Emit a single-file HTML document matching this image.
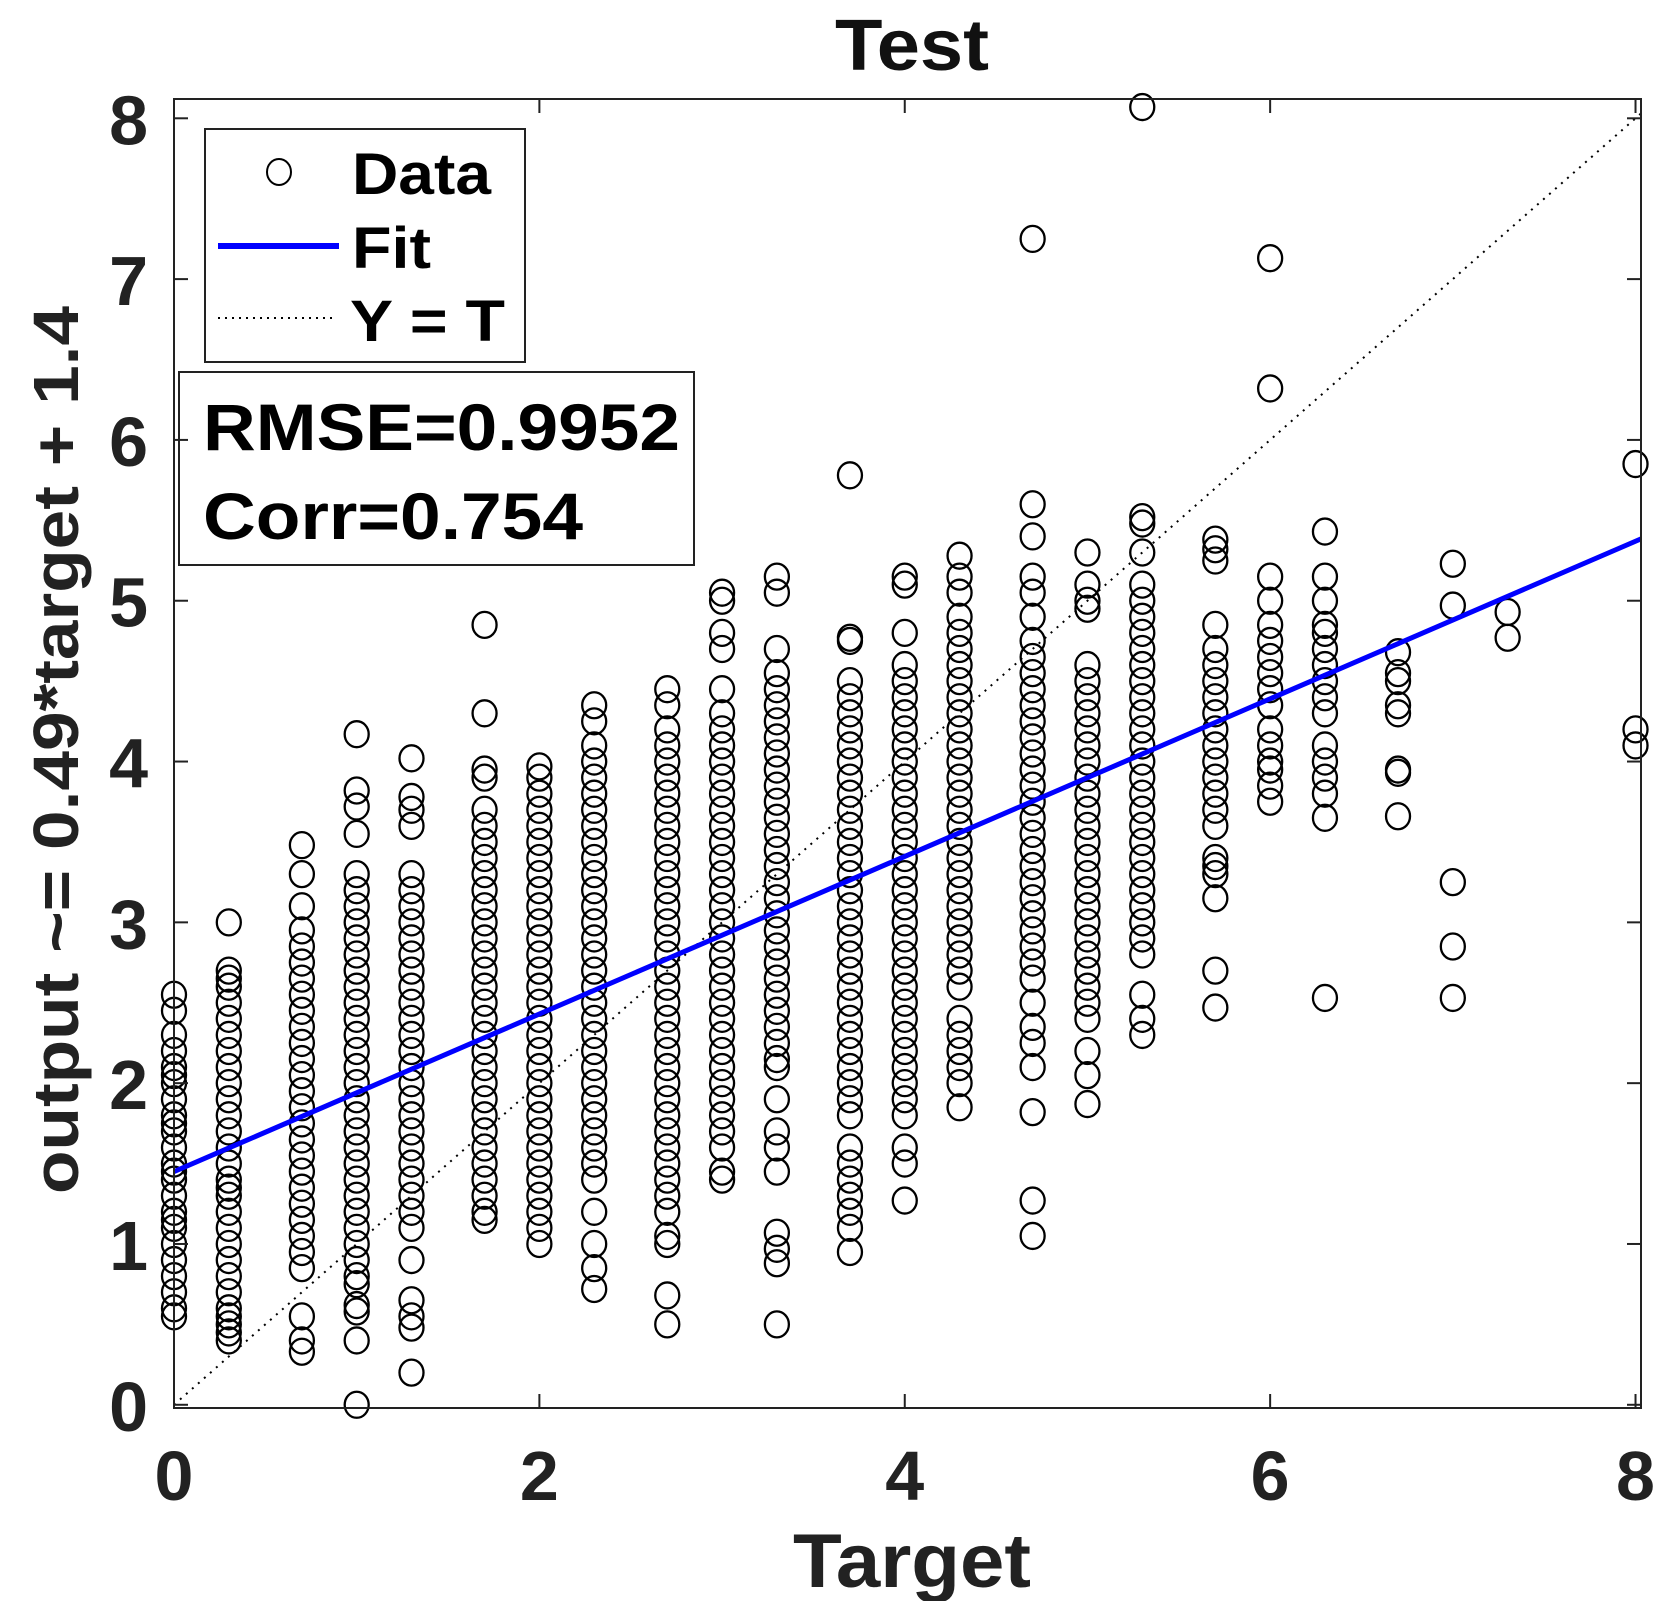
<!DOCTYPE html>
<html><head><meta charset="utf-8"><style>
html,body{margin:0;padding:0;background:#fff;}
svg{display:block;}
text{font-family:"Liberation Sans",Arial,sans-serif;font-weight:bold;}
</style></head><body>
<svg id="chart" width="1673" height="1601" viewBox="0 0 1673 1601" xmlns="http://www.w3.org/2000/svg">
<rect x="0" y="0" width="1673" height="1601" fill="#fff"/>
<g id="marks"></g>
<g id="frame"></g>
<text x="912" y="70" font-size="72" text-anchor="middle" fill="#111" textLength="154" lengthAdjust="spacingAndGlyphs">Test</text>
<text x="912" y="1587" font-size="76" text-anchor="middle" fill="#222" textLength="238" lengthAdjust="spacingAndGlyphs">Target</text>
<text x="0" y="0" font-size="64" text-anchor="middle" fill="#222" transform="translate(78,750) rotate(-90)" textLength="888" lengthAdjust="spacingAndGlyphs">output ~= 0.49*target + 1.4</text>
<g>
<rect x="205" y="129" width="320" height="233" fill="#fff" stroke="#222" stroke-width="2"/>
<ellipse cx="279" cy="172" rx="12" ry="13" fill="none" stroke="#000" stroke-width="2"/>
<text x="352" y="194" font-size="58" fill="#000" textLength="139" lengthAdjust="spacingAndGlyphs">Data</text>
<line x1="218" y1="246" x2="339" y2="246" stroke="#0000ff" stroke-width="6"/>
<text x="352" y="268" font-size="58" fill="#000" textLength="79" lengthAdjust="spacingAndGlyphs">Fit</text>
<line x1="218" y1="318" x2="332" y2="318" stroke="#000" stroke-width="2" stroke-dasharray="2,5"/>
<text x="350" y="341" font-size="58" fill="#000" textLength="155" lengthAdjust="spacingAndGlyphs">Y = T</text>
</g>
<g>
<rect x="179" y="372" width="515" height="193" fill="none" stroke="#222" stroke-width="2"/>
<text x="203" y="450" font-size="66" fill="#000" textLength="477" lengthAdjust="spacingAndGlyphs">RMSE=0.9952</text>
<text x="203" y="539" font-size="66" fill="#000" textLength="380" lengthAdjust="spacingAndGlyphs">Corr=0.754</text>
</g>
</svg>
<script>
const targets = [0,0.3,0.7,1,1.3,1.7,2,2.3,2.7,3,3.3,3.7,4,4.3,4.7,5,5.3,5.7,6,6.3,6.7,7,7.3,8];
const outputs = [
[2.55,2.45,2.3,2.2,2.1,2.05,2.0,1.9,1.8,1.75,1.7,1.6,1.5,1.45,1.4,1.3,1.2,1.15,1.1,1.0,0.9,0.8,0.7,0.6,0.55],
[3.0,2.7,2.65,2.6,2.5,2.4,2.3,2.2,2.1,2.0,1.9,1.8,1.7,1.6,1.5,1.4,1.35,1.3,1.2,1.1,1.0,0.9,0.8,0.7,0.6,0.55,0.5,0.45,0.4],
[3.48,3.3,3.1,2.95,2.85,2.75,2.65,2.55,2.45,2.35,2.25,2.15,2.05,1.95,1.85,1.75,1.65,1.55,1.45,1.35,1.25,1.15,1.05,0.95,0.85,0.55,0.4,0.33],
[4.17,3.82,3.72,3.55,3.3,3.2,3.1,3.0,2.9,2.8,2.7,2.6,2.5,2.4,2.3,2.2,2.1,2.0,1.9,1.8,1.7,1.6,1.5,1.4,1.3,1.2,1.1,1.0,0.9,0.8,0.75,0.62,0.58,0.4,0.0],
[4.02,3.78,3.7,3.6,3.3,3.2,3.1,3.0,2.9,2.8,2.7,2.6,2.5,2.4,2.3,2.2,2.1,2.0,1.9,1.8,1.7,1.6,1.5,1.4,1.3,1.2,1.1,0.9,0.65,0.55,0.48,0.2],
[4.85,4.3,3.95,3.9,3.7,3.6,3.5,3.4,3.3,3.2,3.1,3.0,2.9,2.8,2.7,2.6,2.5,2.4,2.3,2.2,2.1,2.0,1.9,1.8,1.7,1.6,1.5,1.4,1.3,1.2,1.15],
[3.97,3.9,3.8,3.7,3.6,3.5,3.4,3.3,3.2,3.1,3.0,2.9,2.8,2.7,2.6,2.5,2.4,2.3,2.2,2.1,2.0,1.9,1.8,1.7,1.6,1.5,1.4,1.3,1.2,1.1,1.0],
[4.35,4.25,4.1,4.0,3.9,3.8,3.7,3.6,3.5,3.4,3.3,3.2,3.1,3.0,2.9,2.8,2.7,2.6,2.5,2.4,2.3,2.2,2.1,2.0,1.9,1.8,1.7,1.6,1.5,1.4,1.2,1.0,0.85,0.72],
[4.45,4.35,4.2,4.1,4.0,3.9,3.8,3.7,3.6,3.5,3.4,3.3,3.2,3.1,3.0,2.9,2.8,2.7,2.6,2.5,2.4,2.3,2.2,2.1,2.0,1.9,1.8,1.7,1.6,1.5,1.4,1.3,1.2,1.05,1.0,0.68,0.5],
[5.05,5.0,4.8,4.7,4.45,4.3,4.2,4.1,4.0,3.9,3.8,3.7,3.6,3.5,3.4,3.3,3.2,3.1,3.0,2.9,2.8,2.7,2.6,2.5,2.4,2.3,2.2,2.1,2.0,1.9,1.8,1.7,1.6,1.45,1.4],
[5.15,5.05,4.7,4.55,4.45,4.35,4.25,4.15,4.05,3.95,3.85,3.75,3.65,3.55,3.45,3.35,3.25,3.15,3.05,2.95,2.85,2.75,2.65,2.55,2.45,2.35,2.25,2.15,2.1,1.9,1.7,1.6,1.45,1.07,0.97,0.88,0.5],
[5.78,4.77,4.75,4.5,4.4,4.3,4.2,4.1,4.0,3.9,3.8,3.7,3.6,3.5,3.4,3.3,3.2,3.1,3.0,2.9,2.8,2.7,2.6,2.5,2.4,2.3,2.2,2.1,2.0,1.9,1.8,1.6,1.5,1.4,1.3,1.2,1.1,0.95],
[5.15,5.1,4.8,4.6,4.5,4.4,4.3,4.2,4.1,4.0,3.9,3.8,3.7,3.6,3.5,3.4,3.3,3.2,3.1,3.0,2.9,2.8,2.7,2.6,2.5,2.4,2.3,2.2,2.1,2.0,1.9,1.8,1.6,1.5,1.27],
[5.28,5.15,5.05,4.9,4.8,4.7,4.6,4.5,4.4,4.3,4.2,4.1,4.0,3.9,3.8,3.7,3.6,3.5,3.4,3.3,3.2,3.1,3.0,2.9,2.8,2.7,2.6,2.4,2.3,2.2,2.1,2.0,1.85],
[7.25,5.6,5.4,5.15,5.05,4.9,4.75,4.65,4.55,4.45,4.35,4.25,4.15,4.05,3.95,3.85,3.75,3.65,3.55,3.45,3.35,3.25,3.15,3.05,2.95,2.85,2.75,2.65,2.5,2.35,2.25,2.1,1.82,1.27,1.05],
[5.3,5.1,5.0,4.95,4.6,4.5,4.4,4.3,4.2,4.1,4.0,3.9,3.8,3.7,3.6,3.5,3.4,3.3,3.2,3.1,3.0,2.9,2.8,2.7,2.6,2.5,2.4,2.2,2.05,1.87],
[8.07,5.52,5.48,5.3,5.1,5.0,4.9,4.8,4.7,4.6,4.5,4.4,4.3,4.2,4.1,4.0,3.9,3.8,3.7,3.6,3.5,3.4,3.3,3.2,3.1,3.0,2.9,2.8,2.55,2.4,2.3],
[5.38,5.32,5.25,4.85,4.7,4.6,4.5,4.4,4.3,4.2,4.1,4.0,3.9,3.8,3.7,3.6,3.4,3.35,3.3,3.15,2.7,2.47],
[7.13,6.32,5.15,5.0,4.85,4.75,4.65,4.55,4.45,4.35,4.2,4.1,4.0,3.95,3.85,3.75],
[5.43,5.15,5.0,4.85,4.8,4.7,4.6,4.5,4.4,4.3,4.1,4.0,3.9,3.8,3.65,2.53],
[4.68,4.55,4.5,4.35,4.3,3.95,3.93,3.66],
[5.23,4.97,3.25,2.85,2.53],
[4.93,4.77],
[5.85,4.2,4.1]
];
const xTicks = [0,2,4,6,8];
const yTicks = [0,1,2,3,4,5,6,7,8];
const fitSlope = 0.49;
const fitIntercept = 1.45;

const NS = "http://www.w3.org/2000/svg";
const L = 174, R = 1641, T = 99, B = 1408;
const XMIN = 0, XMAX = 8.03, YMIN = -0.02, YMAX = 8.12;
function sx(v){ return L + (v - XMIN) / (XMAX - XMIN) * (R - L); }
function sy(v){ return B - (v - YMIN) / (YMAX - YMIN) * (B - T); }
function mk(tag, attrs, parent){
  const el = document.createElementNS(NS, tag);
  for (const k in attrs) el.setAttribute(k, attrs[k]);
  parent.appendChild(el);
  return el;
}
const marks = document.getElementById('marks');
const frame = document.getElementById('frame');

const idl = mk('line', {x1:sx(0), y1:sy(0), x2:sx(8.03), y2:sy(8.03), stroke:'#000', 'stroke-width':2, 'stroke-dasharray':'2,6'}, marks);



targets.forEach((t, i) => {
  outputs[i].forEach(v => {
    const c = mk('ellipse', {cx:sx(t), cy:sy(v), rx:12, ry:13, fill:'none', stroke:'#000', 'stroke-width':2.3}, marks);
    
    
  });
});

const fl = mk('line', {x1:sx(0), y1:sy(fitIntercept), x2:sx(XMAX), y2:sy(fitIntercept + fitSlope * XMAX), stroke:'#0000ff', 'stroke-width':5}, marks);



const box = mk('rect', {x:L, y:T, width:R-L, height:B-T, fill:'none', stroke:'#222', 'stroke-width':2}, frame);



xTicks.forEach(v => {
  const x = sx(v);
  mk('line', {x1:x, y1:B, x2:x, y2:B-14, stroke:'#222', 'stroke-width':2}, frame);
  mk('line', {x1:x, y1:T, x2:x, y2:T+14, stroke:'#222', 'stroke-width':2}, frame);
  const tl = mk('text', {x:x, y:1500, 'font-size':70, 'text-anchor':'middle', fill:'#222'}, frame);
  tl.textContent = v;
  
  
});
yTicks.forEach(v => {
  const y = sy(v);
  mk('line', {x1:L, y1:y, x2:L+14, y2:y, stroke:'#222', 'stroke-width':2}, frame);
  mk('line', {x1:R, y1:y, x2:R-14, y2:y, stroke:'#222', 'stroke-width':2}, frame);
  const tl = mk('text', {x:148, y:y+26, 'font-size':70, 'text-anchor':'end', fill:'#222'}, frame);
  tl.textContent = v;
  
  
});
</script>
</body></html>
